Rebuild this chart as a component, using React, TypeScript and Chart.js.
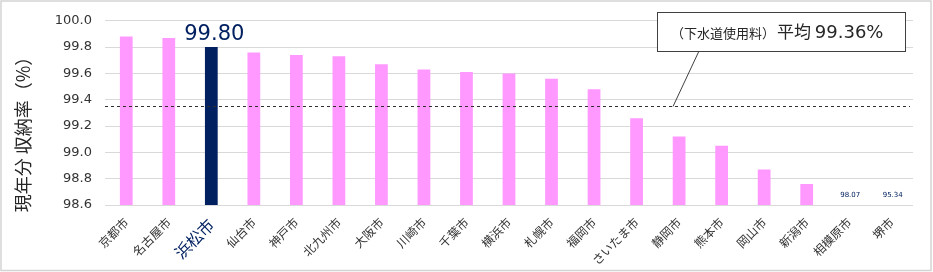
import React, { useEffect, useRef } from "react";
import { Chart, registerables } from "chart.js";
Chart.register(...registerables);

const categories = ["京都市", "名古屋市", "浜松市", "仙台市", "神戸市", "北九州市", "大阪市", "川崎市", "千葉市", "横浜市", "札幌市", "福岡市", "さいたま市", "静岡市", "熊本市", "岡山市", "新潟市", "相模原市", "堺市"];
const collectionRates = [99.88, 99.87, 99.80, 99.76, 99.74, 99.73, 99.67, 99.63, 99.61, 99.60, 99.56, 99.48, 99.26, 99.12, 99.05, 98.87, 98.76, 98.07, 95.34];
const yTickValues = [98.6, 98.8, 99.0, 99.2, 99.4, 99.6, 99.8, 100.0];
const averageRate = 99.36;
const averageLineValue = 99.35;
const highlightIndex = 2;
const yTitle = "現年分 収納率（%）";
const noteSmall = "（下水道使用料）";
const noteLarge = "平均 ";
const noteValue = "99.36%";

const JP = '"Noto Sans CJK JP", "Noto Sans", sans-serif';
const NUM = '"DejaVu Sans", sans-serif';
const PINK = "#FF99FF";
const NAVY = "#002060";

const overlayPlugin = {
  id: "overlay",
  beforeDraw(chart: any) {
    const ctx = chart.ctx;
    ctx.save();
    ctx.fillStyle = "#ffffff";
    ctx.fillRect(0, 0, chart.width, chart.height);
    ctx.strokeStyle = "#d4d4d4";
    ctx.lineWidth = 1.5;
    ctx.strokeRect(1, 1, chart.width - 3, chart.height - 2.5);
    ctx.restore();
  },
  afterDatasetsDraw(chart: any) {
    const ctx = chart.ctx;
    const area = chart.chartArea;
    const y = chart.scales.y;
    const meta = chart.getDatasetMeta(0);
    ctx.save();

    // average dashed line
    const ay = Math.round(y.getPixelForValue(averageLineValue)) + 0.5;
    ctx.strokeStyle = "#303030";
    ctx.lineWidth = 1;
    ctx.setLineDash([3, 3]);
    ctx.beginPath();
    ctx.moveTo(area.left, ay);
    ctx.lineTo(area.right - 3, ay);
    ctx.stroke();
    ctx.setLineDash([]);

    // leader line
    ctx.strokeStyle = "#404040";
    ctx.beginPath();
    ctx.moveTo(699, 51);
    ctx.lineTo(673, ay);
    ctx.stroke();

    // annotation box
    ctx.fillStyle = "#ffffff";
    ctx.fillRect(657, 12, 248, 39);
    ctx.strokeStyle = "#404040";
    ctx.strokeRect(657.5, 12.5, 248, 39);
    ctx.fillStyle = "#262626";
    ctx.textAlign = "left";
    ctx.textBaseline = "alphabetic";
    let tx = 671;
    ctx.font = `13px ${JP}`;
    ctx.fillText(noteSmall, tx, 38);
    tx += ctx.measureText(noteSmall).width + 2;
    ctx.font = `17px ${JP}`;
    ctx.fillText(noteLarge, tx, 38);
    tx += ctx.measureText(noteLarge).width;
    ctx.font = `18px ${NUM}`;
    ctx.fillText(noteValue, tx, 38);

    // highlighted bar value label
    const hb = meta.data[highlightIndex];
    ctx.fillStyle = NAVY;
    ctx.textAlign = "center";
    ctx.font = `21px ${NUM}`;
    ctx.fillText(collectionRates[highlightIndex].toFixed(2), hb.x + 3, hb.y - 7);

    // out-of-range value labels
    ctx.font = `7px ${NUM}`;
    collectionRates.forEach((v, i) => {
      if (v < y.min) {
        const b = meta.data[i];
        ctx.fillText(v.toFixed(2), b.x + 1, area.bottom - 8);
      }
    });

    // y title
    ctx.translate(23, 130);
    ctx.rotate(-Math.PI / 2);
    ctx.fillStyle = "#262626";
    ctx.font = `18px ${JP}`;
    ctx.textAlign = "center";
    ctx.textBaseline = "middle";
    ctx.fillText(yTitle, 0, 0);
    ctx.restore();
  },
};

export default function App() {
  const ref = useRef<HTMLCanvasElement>(null);
  useEffect(() => {
    document.body.style.margin = "0";
    const chart = new Chart(ref.current as HTMLCanvasElement, {
      type: "bar",
      data: {
        labels: categories,
        datasets: [
          {
            data: collectionRates,
            backgroundColor: collectionRates.map((_, i) => (i === highlightIndex ? NAVY : PINK)),
            barPercentage: 0.3,
            categoryPercentage: 1,
          },
        ],
      },
      options: {
        responsive: false,
        animation: false,
        layout: { padding: { top: 20, right: 20, left: 0, bottom: 0 } },
        plugins: { legend: { display: false }, tooltip: { enabled: false } },
        scales: {
          x: {
            grid: { display: false },
            border: { display: false },
            ticks: {
              autoSkip: false,
              maxRotation: 45,
              minRotation: 45,
              padding: 2,
              color: (c: any) => (c.index === highlightIndex ? NAVY : "#333333"),
              font: (c: any) => (c.index === highlightIndex ? { family: JP, size: 16 } : { family: JP, size: 12 }),
            },
            afterFit: (s: any) => {
              s.height = 67;
            },
          },
          y: {
            min: 98.6,
            max: 100.0,
            grid: { color: "#d9d9d9", lineWidth: 1, drawTicks: false },
            border: { display: false },
            afterBuildTicks: (s: any) => {
              s.ticks = yTickValues.map((v) => ({ value: v }));
            },
            ticks: {
              padding: 13,
              color: "#333333",
              font: { family: NUM, size: 13 },
              callback: (v: any) => Number(v).toFixed(1),
            },
            afterFit: (s: any) => {
              s.width = 105;
            },
          },
        },
      },
      plugins: [overlayPlugin],
    });
    return () => chart.destroy();
  }, []);
  return (
    <div style={{ width: 933, height: 272 }}>
      <canvas ref={ref} width={933} height={272} style={{ display: "block" }} />
    </div>
  );
}
